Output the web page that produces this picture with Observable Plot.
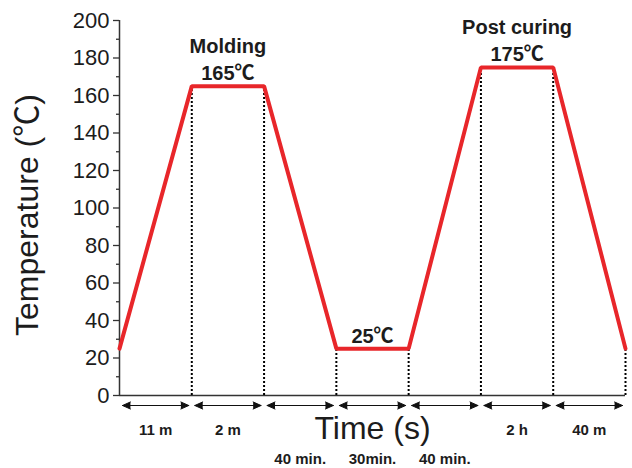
<!DOCTYPE html>
<html><head><meta charset="utf-8">
<script src="https://cdn.jsdelivr.net/npm/d3@7"></script>
<script src="https://cdn.jsdelivr.net/npm/@observablehq/plot@0.6"></script>
<style>body{margin:0;background:#fff} #chart svg{display:block}</style>
</head><body><div id="chart"></div>
<script>
// breakpoints of the cure cycle (stage index) and temperatures (°C)
const stage = [0, 1, 2, 3, 4, 5, 6, 7];
const temperature = [25, 165, 165, 25, 25, 175, 175, 25];
// duration of each interval between breakpoints
const spanLabels = ["11 m", "2 m", "40 min.", "30min.", "40 min.", "2 h", "40 m"];
const spanRow = [0, 0, 1, 1, 1, 0, 0];
// annotations
const annoStage = [1.5, 3.5, 5.5];
const annoTemp = [165, 25, 175];
const annoText = ["Molding\n165℃", "25℃", "Post curing\n175℃"];
// y ticks
const yMajorTicks = [0, 20, 40, 60, 80, 100, 120, 140, 160, 180, 200];
const yMinorTicks = [10, 30, 50, 70, 90, 110, 130, 150, 170, 190];

const points = stage.map((s, i) => ({s, t: temperature[i]}));
const spans = spanLabels.map((label, i) => ({a: stage[i], b: stage[i + 1], mid: (stage[i] + stage[i + 1]) / 2, label, row: spanRow[i]}));
const annos = annoText.map((text, i) => ({s: annoStage[i], t: annoTemp[i], text}));

const font = "'Liberation Sans', Arial, 'Noto Sans CJK SC', sans-serif";
const ink = "#1c1c1c";

const plot = Plot.plot({
  width: 632,
  height: 468,
  marginLeft: 119,
  marginRight: 7,
  marginTop: 20,
  marginBottom: 73,
  style: {fontFamily: font, background: "#fff", color: ink, overflow: "visible"},
  x: {domain: [0, 7], axis: null},
  y: {domain: [0, 200], axis: null},
  marks: [
    Plot.axisY({ticks: yMajorTicks, tickSize: 6, tickPadding: 4, fontSize: 22, label: null, stroke: "#333", strokeWidth: 1.3, fill: ink}),
    Plot.axisY({ticks: yMinorTicks, tickSize: 3, tickFormat: () => "", label: null, stroke: "#333", strokeWidth: 1.3}),
    Plot.ruleX([0], {stroke: "#333", strokeWidth: 1.5}),
    Plot.ruleY([0], {stroke: "#333", strokeWidth: 1.5}),
    Plot.ruleX(points.slice(1), {x: "s", y1: 0, y2: "t", stroke: "#000", strokeWidth: 2, strokeDasharray: "2,2"}),
    Plot.line(points, {x: "s", y: "t", stroke: "#e8262a", strokeWidth: 4, strokeLinejoin: "miter"}),
    // double-headed interval arrows
    Plot.arrow(spans, {x1: "mid", x2: "b", y1: 0, y2: 0, dy: 10, insetEnd: 3, stroke: "#111", fill: "#111", strokeWidth: 1, headLength: 13, headAngle: 48}),
    Plot.arrow(spans, {x1: "mid", x2: "a", y1: 0, y2: 0, dy: 10, insetEnd: 3, stroke: "#111", fill: "#111", strokeWidth: 1, headLength: 13, headAngle: 48}),
    Plot.text(spans.filter(d => d.row === 0), {x: "mid", y: 0, text: "label", dy: 39, lineAnchor: "bottom", fontSize: 15, fontWeight: "bold", fill: ink}),
    Plot.text(spans.filter(d => d.row === 1), {x: "mid", y: 0, text: "label", dy: 68, lineAnchor: "bottom", fontSize: 15, fontWeight: "bold", fill: ink}),
    Plot.text(annos, {x: "s", y: "t", text: "text", dy: -6, lineAnchor: "bottom", lineHeight: 1.35, fontSize: 20, fontWeight: "bold", fill: ink}),
    Plot.text(["Time (s)"], {frameAnchor: "bottom", textAnchor: "middle", dy: 43, lineAnchor: "bottom", fontSize: 32, fill: ink}),
    Plot.text(["Temperature (℃)"], {frameAnchor: "left", textAnchor: "middle", rotate: -90, dx: -82, dy: 7, lineAnchor: "bottom", fontSize: 32, fill: ink})
  ]
});
document.getElementById("chart").appendChild(plot);
</script></body></html>
